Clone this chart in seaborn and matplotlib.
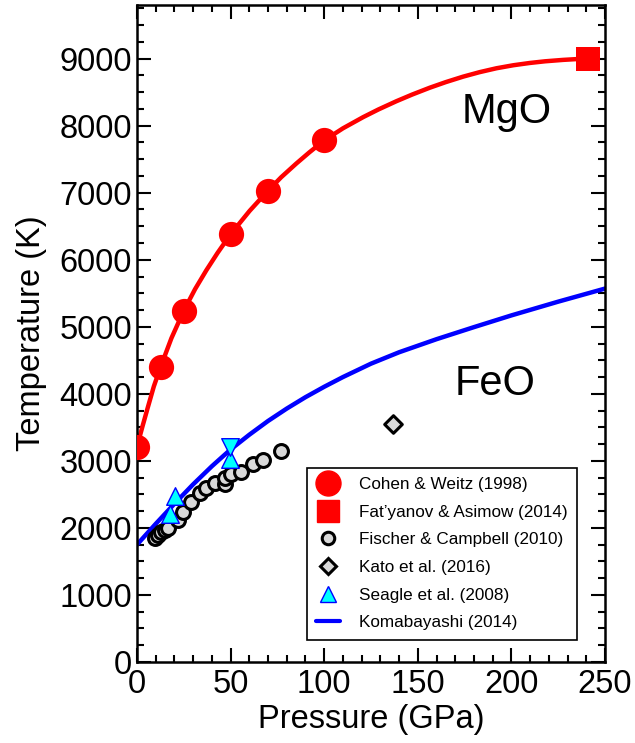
import matplotlib
matplotlib.use("Agg")
import matplotlib.pyplot as plt
from matplotlib.lines import Line2D
from matplotlib.ticker import MultipleLocator
import seaborn as sns

# ---- data ----
cohen_p = [0, 12.6, 25, 50, 70, 100]
cohen_t = [3210, 4400, 5240, 6380, 7030, 7790]

fatyanov_p = [241]
fatyanov_t = [9000]

mgo_curve_p = [0, 3, 5.9, 9, 12.6, 18.4, 25, 31, 37.1, 43, 50, 60.2, 70, 77,
               85.1, 92, 100, 110, 120.8, 129, 138.6, 147, 156.4, 165, 174.2,
               183, 192, 201, 209.8, 218, 227.6, 235, 241]
mgo_curve_t = [3210, 3520, 3808, 4110, 4400, 4830, 5240, 5560, 5845, 6100,
               6380, 6730, 7030, 7230, 7435, 7600, 7780, 7960, 8127, 8242,
               8365, 8464, 8566, 8650, 8731, 8798, 8856, 8901, 8935, 8960,
               8981, 8993, 9000]

fischer_p = [9.5, 11.3, 13.0, 14.8, 16.6, 21.9, 24.6, 29.1, 33.5, 37.1, 41.5,
             46.9, 46.9, 50.4, 55.8, 62.0, 67.4, 77.1]
fischer_t = [1843, 1893, 1943, 1967, 1993, 2117, 2240, 2389, 2515, 2600, 2675,
             2650, 2745, 2800, 2840, 2955, 3010, 3150]

kato_p = [136.6]
kato_t = [3550]
kato_err = [100]

seagle_up_p = [17.5, 20.1, 49.6]
seagle_up_t = [2205, 2480, 3025]
seagle_down_p = [49.6]
seagle_down_t = [3210]

koma_p = [0, 10, 20, 30, 40, 50, 60, 70, 80, 90, 100, 110, 125, 140, 160,
          180, 200, 225, 250]
koma_t = [1750, 2060, 2360, 2650, 2920, 3170, 3390, 3595, 3780, 3950, 4105,
          4250, 4450, 4620, 4815, 4995, 5170, 5375, 5570]

legend_labels = ["Cohen & Weitz (1998)", "Fat\u2019yanov & Asimow (2014)",
                 "Fischer & Campbell (2010)", "Kato et al. (2016)",
                 "Seagle et al. (2008)", "Komabayashi (2014)"]

# ---- style ----
sns.set_style("ticks")
plt.rcParams['font.family'] = ['Liberation Sans', 'DejaVu Sans']
plt.rcParams['text.color'] = 'black'
plt.rcParams['axes.labelcolor'] = 'black'
plt.rcParams['xtick.color'] = 'black'
plt.rcParams['ytick.color'] = 'black'

fig = plt.figure(figsize=(6.35, 7.43), dpi=100)
ax = fig.add_axes([0.2157, 0.109, 0.7371, 0.8843])

red = "#FF0000"
blue = "#0000FF"
cyan = "#00FFFF"
grey = "#D9D9D9"

sns.lineplot(x=mgo_curve_p, y=mgo_curve_t, ax=ax, color=red, lw=3.2,
             estimator=None, sort=False, zorder=2)
sns.lineplot(x=koma_p, y=koma_t, ax=ax, color=blue, lw=3.2,
             estimator=None, sort=False, zorder=2)

sns.scatterplot(x=fischer_p, y=fischer_t, ax=ax, marker='o', s=100,
                color=grey, edgecolor='black', linewidth=2.2, zorder=3)
sns.scatterplot(x=seagle_up_p, y=seagle_up_t, ax=ax, marker='^', s=160,
                color=cyan, edgecolor=blue, linewidth=1.0, zorder=4)
sns.scatterplot(x=seagle_down_p, y=seagle_down_t, ax=ax, marker='v', s=160,
                color=cyan, edgecolor=blue, linewidth=1.0, zorder=4)
ax.errorbar(kato_p, kato_t, yerr=kato_err, fmt='none', ecolor='black',
            elinewidth=1.5, capsize=0, zorder=3)
sns.scatterplot(x=kato_p, y=kato_t, ax=ax, marker='D', s=80,
                color=grey, edgecolor='black', linewidth=2.2, zorder=4)
sns.scatterplot(x=cohen_p, y=cohen_t, ax=ax, marker='o', s=330,
                color=red, edgecolor=red, linewidth=0, zorder=5)
sns.scatterplot(x=fatyanov_p, y=fatyanov_t, ax=ax, marker='s', s=300,
                color=red, edgecolor=red, linewidth=0, zorder=5)

ax.set_xlim(0, 250)
ax.set_ylim(0, 9800)
ax.xaxis.set_major_locator(MultipleLocator(50))
ax.xaxis.set_minor_locator(MultipleLocator(10))
ax.yaxis.set_major_locator(MultipleLocator(1000))
ax.yaxis.set_minor_locator(MultipleLocator(250))
ax.tick_params(which='both', direction='in', top=True, right=True,
               labelsize=23.5, width=1.5, colors='black')
ax.tick_params(which='major', length=10)
ax.tick_params(which='minor', length=5)
ax.tick_params(axis='x', pad=5)
for sp in ax.spines.values():
    sp.set_linewidth(1.8)
    sp.set_color('black')

ax.set_xlabel("Pressure (GPa)", fontsize=23.5, labelpad=3)
ax.set_ylabel("Temperature (K)", fontsize=23.5, labelpad=9)

ax.text(197.5, 8200, "MgO", fontsize=30, ha='center', va='center')
ax.text(191, 4150, "FeO", fontsize=30, ha='center', va='center')

handles = [
    Line2D([], [], ls='none', marker='o', ms=18, mfc=red, mec=red),
    Line2D([], [], ls='none', marker='s', ms=16, mfc=red, mec=red),
    Line2D([], [], ls='none', marker='o', ms=9, mfc=grey, mec='black', mew=2.2),
    Line2D([], [], ls='none', marker='D', ms=8, mfc=grey, mec='black', mew=2.2),
    Line2D([], [], ls='none', marker='^', ms=11, mfc=cyan, mec=blue, mew=1),
    Line2D([], [], color=blue, lw=3),
]
leg = ax.legend(handles, legend_labels, loc='lower left',
                bbox_to_anchor=(0.363, 0.034), borderaxespad=0,
                fontsize=12.3, frameon=True, fancybox=False, handlelength=1.4,
                handletextpad=1.1, labelspacing=0.74, borderpad=0.55,
                edgecolor='black', framealpha=1)
leg.get_frame().set_linewidth(1.2)

fig.savefig("out.png", dpi=100)
